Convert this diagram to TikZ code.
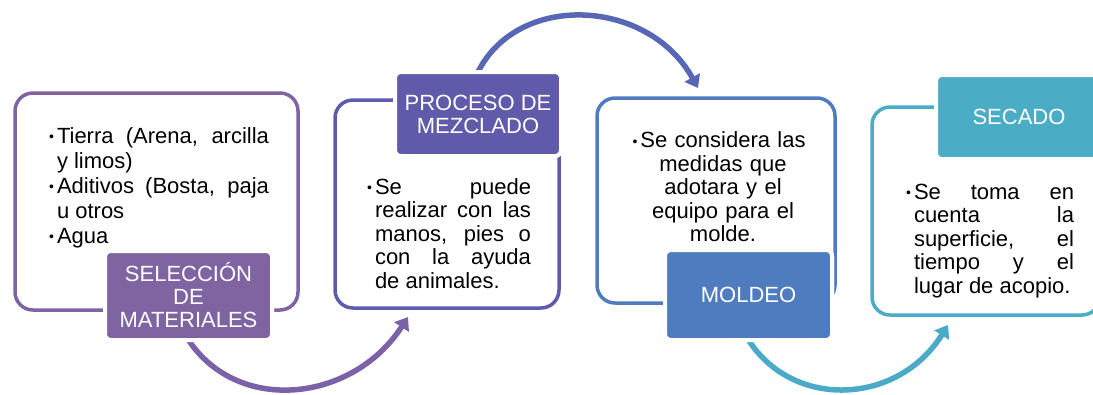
\documentclass[tikz,border=0pt]{standalone}
\usepackage{fontspec}
\setmainfont{Liberation Sans}
\usetikzlibrary{arrows.meta}
\definecolor{matcol}{HTML}{8064A2}
\definecolor{mezcol}{HTML}{605AAB}
\definecolor{molcol}{HTML}{4F7CBE}
\definecolor{seccol}{HTML}{4BACC6}
\definecolor{arrA}{HTML}{7A62A8}
\definecolor{arrB}{HTML}{5767B6}
\definecolor{arrC}{HTML}{4AAAC8}
\tolerance=10000
\hbadness=10000
\newcommand{\bul}{\par\noindent\llap{\raisebox{1.5pt}{\fontsize{14}{14}\selectfont\textbullet}\hspace{3pt}}}
\tikzset{
  stagebox/.style={draw=#1, line width=3.5pt, rounded corners=18pt, inner sep=0pt, outer sep=0pt},
  stagetitle/.style={fill=#1, draw=white, line width=4pt, rounded corners=6pt, inner sep=0pt, outer sep=0pt,
    text=white, align=center, font=\fontsize{22}{23}\selectfont},
  stagetext/.style={inner sep=0pt, outer sep=0pt, text=black, font=\fontsize{22}{23.4}\selectfont},
  stagearrow/.style={draw=#1, line width=5.5pt, -{Triangle[length=12pt,width=17pt]}}
}
\begin{document}
\begin{tikzpicture}[x=1pt,y=-1pt]
  \useasboundingbox (0,0) rectangle (1093,394);
  \coordinate (mezin) at (408,317);
  \coordinate (molin) at (698,88);
  \coordinate (secin) at (948,325);
  \node[stagebox=matcol, minimum width=283pt, minimum height=217pt] (matframe) at (156.5,201.5) {};
  \node[stagebox=mezcol, minimum width=224pt, minimum height=208pt] (mezframe) at (447,204) {};
  \node[stagebox=molcol, minimum width=238pt, minimum height=205pt] (molframe) at (716,200.5) {};
  \node[stagebox=seccol, minimum width=228pt, minimum height=208pt] (secframe) at (986,211) {};
  \node[stagetitle=matcol, minimum width=167pt, minimum height=89pt] (mattitle) at (188.5,295.5) {SELECCIÓN\\DE\\MATERIALES};
  \node[stagetitle=mezcol, minimum width=166pt, minimum height=84pt] (meztitle) at (478,114) {PROCESO DE\\MEZCLADO};
  \node[stagetitle=molcol, minimum width=167pt, minimum height=90pt] (moltitle) at (748.5,295) {MOLDEO};
  \node[stagetitle=seccol, minimum width=166pt, minimum height=84pt] (sectitle) at (1019,117) {SECADO};
  \draw[stagearrow=arrA] (mattitle.south) .. controls +(50,75) and +(-55,85) .. (mezin);
  \draw[stagearrow=arrB] (meztitle.north) .. controls +(40,-80) and +(-50,-90) .. (molin);
  \draw[stagearrow=arrC] (moltitle.south) .. controls +(45,70) and +(-50,80) .. (secin);
  \node[stagetitle=matcol, minimum width=167pt, minimum height=89pt] at (mattitle) {SELECCIÓN\\DE\\MATERIALES};
  \node[stagetitle=mezcol, minimum width=166pt, minimum height=84pt] at (meztitle) {PROCESO DE\\MEZCLADO};
  \node[stagetitle=molcol, minimum width=167pt, minimum height=90pt] at (moltitle) {MOLDEO};
  \node[stagetext, text width=212pt, align=justify, anchor=north west, font=\fontsize{22}{25}\selectfont] (matbody) at (57,118)
    {\bul Tierra (Arena, arcilla\linebreak y limos)\bul Aditivos (Bosta, paja\linebreak u otros\bul Agua};
  \node[stagetext, text width=156pt, align=justify, anchor=north west] (mezbody) at (375,171)
    {\bul Se puede\linebreak realizar con las\linebreak manos, pies o\linebreak con la ayuda\linebreak de animales.};
  \node[stagetext, text width=190pt, align=center, anchor=north] (molbody) at (723,132)
    {\llap{\raisebox{1.5pt}{\fontsize{14}{14}\selectfont\textbullet}\hspace{3pt}}Se considera las\\medidas que\\adotara y el\\equipo para el\\molde.};
  \node[stagetext, text width=160pt, align=justify, anchor=north west] (secbody) at (914,176)
    {\bul Se toma en\linebreak cuenta la\linebreak superficie, el\linebreak tiempo y el\linebreak lugar de acopio.};
\end{tikzpicture}
\end{document}
